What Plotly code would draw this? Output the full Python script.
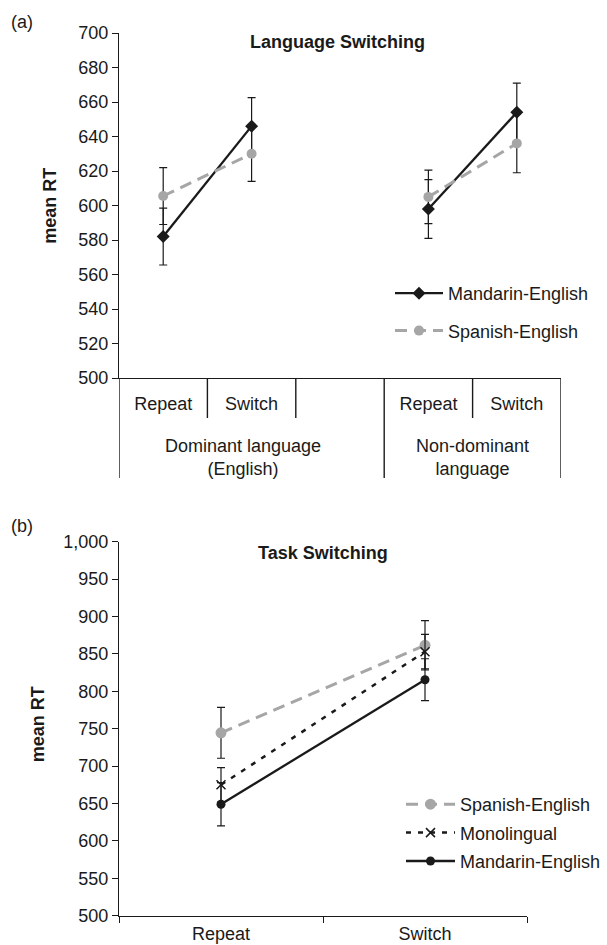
import plotly.graph_objects as go

W, H = 607, 945
FONT = "Liberation Sans, Arial, sans-serif"
INK = "#1a1a1a"
GREY = "#a6a6a6"

# ---------------- Panel (a): Language switching ----------------
slot_keys = ["Dom-Repeat", "Dom-Switch", "gap", "NonDom-Repeat", "NonDom-Switch"]
slot_labels = ["Repeat", "Switch", "", "Repeat", "Switch"]
lang_groups = ["Dominant language<br>(English)", "Non-dominant<br>language"]
lang_mandarin = [582, 646, None, 598, 654]
lang_mandarin_err = [16.5, 16.5, None, 17, 17]
lang_spanish = [605.5, 630, None, 605, 636]
lang_spanish_err = [16.5, 16, None, 15.5, 17]

# ---------------- Panel (b): Task switching ----------------
task_conditions = ["Repeat", "Switch"]
task_spanish = [744.5, 861.5]
task_spanish_err = [34, 33]
task_mono = [675, 853]
task_mono_err = [23, 23]
task_mandarin = [649, 815.5]
task_mandarin_err = [29, 28]


def err(vals):
    return dict(type="data", array=vals, visible=True, color=INK, thickness=1.2, width=4)


fig = go.Figure()

# Panel (a) traces
fig.add_trace(go.Scatter(
    x=slot_keys, y=lang_mandarin, name="Mandarin-English", mode="lines+markers",
    line=dict(color=INK, width=2.3), marker=dict(symbol="diamond", size=10, color=INK),
    error_y=err(lang_mandarin_err), connectgaps=False,
    xaxis="x", yaxis="y", legend="legend", legendgroup="a1"))
fig.add_trace(go.Scatter(
    x=slot_keys, y=lang_spanish, name="Spanish-English", mode="lines+markers",
    line=dict(color=GREY, width=3, dash="12px,7px"), marker=dict(symbol="circle", size=10, color=GREY),
    error_y=err(lang_spanish_err), connectgaps=False,
    xaxis="x", yaxis="y", legend="legend", legendgroup="a2"))

# Panel (b) traces
fig.add_trace(go.Scatter(
    x=task_conditions, y=task_spanish, name="Spanish-English", mode="lines+markers",
    line=dict(color=GREY, width=3, dash="12px,7px"), marker=dict(symbol="circle", size=11, color=GREY),
    error_y=err(task_spanish_err), xaxis="x2", yaxis="y2", legend="legend2", legendgroup="b1"))
fig.add_trace(go.Scatter(
    x=task_conditions, y=task_mono, name="Monolingual", mode="lines+markers",
    line=dict(color=INK, width=2.5, dash="5px,7px"),
    marker=dict(symbol="x-thin", size=9, color=INK, line=dict(color=INK, width=1.5)),
    error_y=err(task_mono_err), xaxis="x2", yaxis="y2", legend="legend2", legendgroup="b2"))
fig.add_trace(go.Scatter(
    x=task_conditions, y=task_mandarin, name="Mandarin-English", mode="lines+markers",
    line=dict(color=INK, width=2.3), marker=dict(symbol="circle", size=9, color=INK),
    error_y=err(task_mandarin_err), xaxis="x2", yaxis="y2", legend="legend2", legendgroup="b3"))

# geometry (pixels)
a_left, a_right, a_top, a_bot = 119, 561, 33, 378
b_left, b_right, b_top, b_bot = 119, 527, 541.7, 915.7

axis_common = dict(showgrid=False, zeroline=False, showline=True, linecolor=INK, linewidth=1.4,
                   automargin=False, tickfont=dict(family=FONT, size=18, color=INK))

fig.update_layout(
    template="none",
    width=W, height=H, margin=dict(l=0, r=0, t=0, b=0, autoexpand=False),
    paper_bgcolor="white", plot_bgcolor="white",
    font=dict(family=FONT, size=18, color=INK),
    xaxis=dict(axis_common, domain=[a_left / W, a_right / W], anchor="y", type="category",
               categoryorder="array", categoryarray=slot_keys, range=[-0.5, 4.5],
               tickmode="array", tickvals=[k for k, l in zip(slot_keys, slot_labels) if l],
               ticktext=[l for l in slot_labels if l],
               ticks="outside", ticklen=9, tickcolor="rgba(0,0,0,0)"),
    yaxis=dict(axis_common, domain=[1 - a_bot / H, 1 - a_top / H], anchor="x",
               range=[500, 700], dtick=20, ticks="outside", ticklen=6, tickcolor=INK),
    xaxis2=dict(axis_common, domain=[b_left / W, b_right / W], anchor="y2", type="category",
                categoryorder="array", categoryarray=task_conditions, range=[-0.5, 1.5],
                ticks="outside", tickson="boundaries", ticklen=6, tickcolor=INK,
                ticklabelstandoff=1),
    yaxis2=dict(axis_common, domain=[1 - b_bot / H, 1 - b_top / H], anchor="x2",
                range=[500, 1000], dtick=50, tickformat=",d", ticks="outside", ticklen=6,
                tickcolor=INK),
    legend=dict(x=390 / W, y=1 - 275 / H, xanchor="left", yanchor="top",
                font=dict(family=FONT, size=18, color=INK), bgcolor="rgba(0,0,0,0)",
                itemwidth=48, tracegroupgap=11),
    legend2=dict(x=401 / W, y=1 - 786 / H, xanchor="left", yanchor="top",
                 font=dict(family=FONT, size=18, color=INK), bgcolor="rgba(0,0,0,0)",
                 itemwidth=49, tracegroupgap=2),
    showlegend=True,
)

# category separator lines for panel (a)
a_h = a_bot - a_top
short_len = 40 / a_h
long_len = 100 / a_h
for xb in [0.5, 1.5, 3.5]:
    fig.add_shape(type="line", xref="x", yref="y domain", x0=xb, x1=xb, y0=0, y1=-short_len,
                  line=dict(color=INK, width=1.4))
for xb in [-0.5, 2.5, 4.5]:
    fig.add_shape(type="line", xref="x", yref="y domain", x0=xb, x1=xb, y0=0, y1=-long_len,
                  line=dict(color=INK, width=1.4))

# group labels
for gx, gtxt in zip([0.9, 3.5], lang_groups):
    fig.add_annotation(x=gx, xref="x", y=-(457 - a_bot) / a_h, yref="y domain", text=gtxt,
                       showarrow=False, xanchor="center", yanchor="middle",
                       font=dict(family=FONT, size=18, color=INK))

# titles and labels
ann = [
    ("(a)", 22, 21.7, 0),
    ("(b)", 22, 526, 0),
    ("<b>Language Switching</b>", 337.5, 42.3, 0),
    ("<b>Task Switching</b>", 323, 553, 0),
    ("<b>mean RT</b>", 50, 205.7, -90),
    ("<b>mean RT</b>", 38, 724.3, -90),
]
for txt, px, py, ang in ann:
    fig.add_annotation(x=px / W, y=1 - py / H, xref="paper", yref="paper", text=txt,
                       showarrow=False, xanchor="center", yanchor="middle", textangle=ang,
                       font=dict(family=FONT, size=18, color=INK))

fig.write_html("out.html", config={"displayModeBar": False},
               post_script="document.body.style.margin='0';")
